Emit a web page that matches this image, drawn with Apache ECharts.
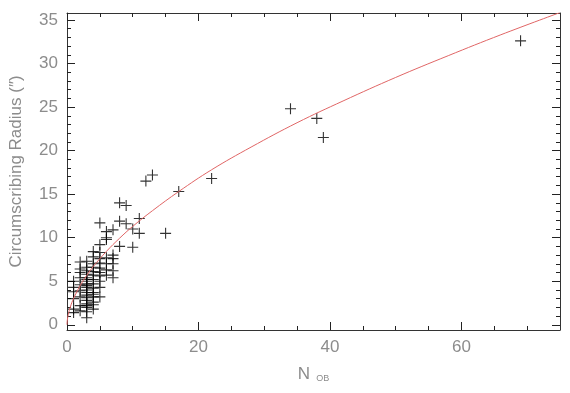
<!DOCTYPE html>
<html>
<head>
<meta charset="utf-8">
<script src="https://cdn.jsdelivr.net/npm/echarts@6/dist/echarts.min.js"></script>
<style>
  html, body { margin: 0; padding: 0; background: #fff; }
  #chart { width: 570px; height: 393px; }
</style>
</head>
<body>
<div id="chart"></div>
<script>
// N_OB of each group
let obN = [
  1, 1, 1, 1, 1, 1,
  2, 2, 2, 2, 2, 2, 2, 2, 2,
  3, 3, 3, 3, 3, 3, 3, 3, 3, 3, 3, 3, 3, 3, 3, 3, 3, 3, 3, 3,
  4, 4, 4, 4, 4, 4, 4, 4, 4, 4, 4, 4, 4, 4, 4,
  5, 5, 5, 5, 5, 5, 5, 5, 5, 5, 5,
  6, 6, 6, 6, 6, 6, 6,
  7, 7, 7, 7, 7, 7,
  8, 8, 8,
  9, 9,
  10, 10,
  11, 11,
  12, 13, 15, 17, 22, 34, 38, 39, 69
];
// circumscribing radius (arcsec)
let radius = [
  1.4, 1.8, 3.0, 3.8, 4.3, 5.0,
  1.6, 2.2, 3.2, 3.9, 4.6, 5.4, 6.0, 6.4, 7.2,
  0.8, 1.5, 2.0, 2.2, 2.4, 2.8, 3.1, 3.4, 3.7, 4.0, 4.3, 4.5, 4.7, 5.0, 5.2, 5.4, 5.8, 6.2, 6.6, 7.3,
  1.8, 2.3, 2.6, 3.2, 3.5, 3.7, 4.2, 4.7, 5.2, 5.7, 6.1, 6.6, 7.0, 7.8, 8.4,
  3.2, 4.3, 5.0, 5.6, 6.0, 6.5, 7.1, 7.6, 8.3, 9.2, 11.7,
  5.7, 6.3, 7.0, 7.7, 9.8, 10.0, 10.7,
  5.4, 6.2, 7.0, 7.6, 8.0, 10.9,
  9.0, 11.9, 14.0,
  11.6, 13.7,
  8.9, 11.0,
  10.5, 12.2,
  16.5, 17.2, 10.5, 15.3, 16.8, 24.8, 23.7, 21.5, 32.6
];
// fitted curve
let fitN = [0, 0.05, 0.2, 0.5, 1, 2, 3, 4, 6, 8, 10, 13, 17, 22, 28, 35, 42, 50, 58, 66, 75];
let fitR = [0, 0.54, 1.2, 2.03, 3.02, 4.49, 5.67, 6.69, 8.43, 9.94, 11.3, 13.1, 15.3, 17.8, 20.4, 23.2, 25.7, 28.4, 30.9, 33.3, 35.85];

let xMajor = [0, 20, 40, 60];
let xMinor = [5, 10, 15, 25, 30, 35, 45, 50, 55, 65, 70];
let yMajor = [0, 5, 10, 15, 20, 25, 30, 35];
let yMinor = [1, 2, 3, 4, 6, 7, 8, 9, 11, 12, 13, 14, 16, 17, 18, 19, 21, 22, 23, 24, 26, 27, 28, 29, 31, 32, 33, 34];

let X_MIN = 0, X_MAX = 75, Y_MIN = -0.6, Y_MAX = 35.8;
let labelColor = "#8c8c8c";
let font = "Liberation Sans";

function makeAxis(pos, min, max, ticks, len, withLine, withLabels, labels) {
  return {
    type: "value",
    position: pos,
    min: min,
    max: max,
    splitLine: { show: false },
    axisLine: { show: withLine, onZero: false, lineStyle: { color: "#333", width: 1 } },
    axisTick: { show: true, inside: true, length: len, customValues: ticks, lineStyle: { color: "#222", width: 1 } },
    axisLabel: withLabels
      ? { show: true, customValues: labels, color: labelColor, fontSize: 17, fontFamily: font, margin: 9 }
      : { show: false }
  };
}

let scatterData = obN.map(function (n, i) { return [n, radius[i]]; });
let fitData = fitN.map(function (n, i) { return [n, fitR[i]]; });

let xBottom = makeAxis("bottom", X_MIN, X_MAX, xMajor, 8, true, true, xMajor);
xBottom.name = "{n|N}{s|OB}";
xBottom.nameLocation = "middle";
xBottom.nameGap = 36;
xBottom.nameTextStyle = {
  rich: {
    n: { fontSize: 17, color: labelColor, fontFamily: font },
    s: { fontSize: 9, color: labelColor, fontFamily: font, padding: [8, 0, 0, 6] }
  }
};

let yLeft = makeAxis("left", Y_MIN, Y_MAX, yMajor, 8, true, true, yMajor);
yLeft.name = "Circumscribing Radius (\u2033)";
yLeft.nameLocation = "middle";
yLeft.nameGap = 42;
yLeft.nameTextStyle = { fontSize: 17, color: labelColor, fontFamily: font };

let chart = echarts.init(document.getElementById("chart"), null, { renderer: "canvas" });
let option = {
  animation: false,
  backgroundColor: "#fff",
  grid: { left: 67, right: 10, top: 13, bottom: 63, containLabel: false },
  xAxis: [
    xBottom,
    makeAxis("bottom", X_MIN, X_MAX, xMinor, 4, false, false),
    makeAxis("top", X_MIN, X_MAX, xMajor, 8, true, false),
    makeAxis("top", X_MIN, X_MAX, xMinor, 4, false, false)
  ],
  yAxis: [
    yLeft,
    makeAxis("left", Y_MIN, Y_MAX, yMinor, 4, false, false),
    makeAxis("right", Y_MIN, Y_MAX, yMajor, 8, true, false),
    makeAxis("right", Y_MIN, Y_MAX, yMinor, 4, false, false)
  ],
  series: [{
    type: "scatter",
    xAxisIndex: 0,
    yAxisIndex: 0,
    symbol: "path://M0,5L10,5M5,0L5,10",
    symbolSize: 11,
    itemStyle: { color: "transparent", borderColor: "#000", borderWidth: 1.1 },
    data: scatterData,
    z: 2
  }, {
    type: "line",
    xAxisIndex: 0,
    yAxisIndex: 0,
    smooth: 0.4,
    showSymbol: false,
    lineStyle: { color: "#e06666", width: 1 },
    data: fitData,
    z: 3
  }]
};
chart.setOption(option, true);
</script>
</body>
</html>
